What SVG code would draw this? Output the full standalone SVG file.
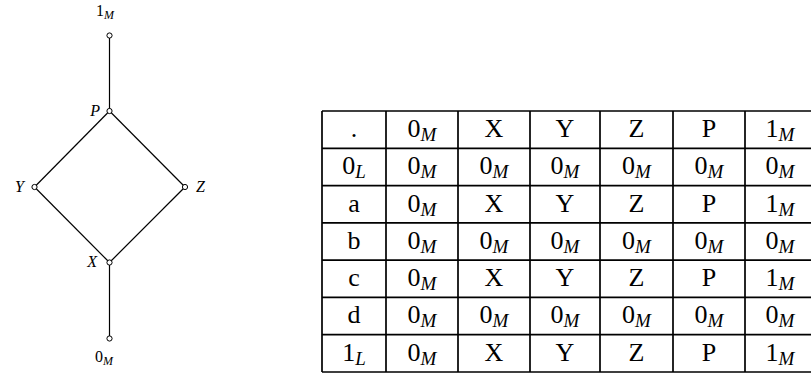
<svg xmlns="http://www.w3.org/2000/svg" width="811" height="376" viewBox="0 0 811 376">
<style>
.edge{stroke:#000;stroke-width:1.2;fill:none}
.node{fill:#fff;stroke:#000;stroke-width:1}
.lab{font-family:"Liberation Serif",serif;font-size:16px;fill:#000}
.it{font-style:italic}
.ls{font-size:12px;font-style:italic}
.grid{stroke:#000;stroke-width:1.7;fill:none}
.t{font-family:"Liberation Serif",serif;font-size:26px;text-anchor:middle;fill:#000}
.s{font-size:19px;font-style:italic}
</style>
<rect width="811" height="376" fill="#fff"/>
<g id="connectors">
<line class="edge" x1="109.5" y1="35.5" x2="109.5" y2="111"/>
<line class="edge" x1="109.5" y1="111" x2="34.5" y2="187"/>
<line class="edge" x1="109.5" y1="111" x2="185" y2="187"/>
<line class="edge" x1="34.5" y1="187" x2="109.5" y2="262.5"/>
<line class="edge" x1="185" y1="187" x2="109.5" y2="262.5"/>
<line class="edge" x1="109.5" y1="262.5" x2="109.5" y2="338.5"/>
</g>
<g id="n1M"><circle class="node" cx="109.5" cy="35.5" r="2.6"/><text class="lab" x="96" y="16">1<tspan class="ls" dy="3">M</tspan></text></g>
<g id="nP"><circle class="node" cx="109.5" cy="111" r="2.6"/><text class="lab it" x="100" y="116" text-anchor="end">P</text></g>
<g id="nY"><circle class="node" cx="34.5" cy="187" r="2.6"/><text class="lab it" x="24" y="192" text-anchor="end">Y</text></g>
<g id="nZ"><circle class="node" cx="185" cy="187" r="2.6"/><text class="lab it" x="196" y="192">Z</text></g>
<g id="nX"><circle class="node" cx="109.5" cy="262.5" r="2.6"/><text class="lab it" x="97" y="267" text-anchor="end">X</text></g>
<g id="n0M"><circle class="node" cx="109.5" cy="338.5" r="2.6"/><text class="lab" x="95" y="362">0<tspan class="ls" dy="3">M</tspan></text></g>
<g id="table">
<path class="grid" d="M322 111H817M322 148.3H817M322 185.6H817M322 222.9H817M322 260.1H817M322 297.4H817M322 334.7H817M322 372H817M322 111V372M386 111V372M458 111V372M530 111V372M600 111V372M673 111V372M745 111V372"/>
<g class="t">
<text x="354" y="137">.</text>
<text x="422" y="137">0<tspan class="s" dy="4">M</tspan></text>
<text x="494" y="137">X</text><text x="565" y="137">Y</text><text x="636.5" y="137">Z</text><text x="709" y="137">P</text>
<text x="780" y="137">1<tspan class="s" dy="4">M</tspan></text>

<text x="354" y="174.3">0<tspan class="s" dy="4">L</tspan></text>
<text x="422" y="174.3">0<tspan class="s" dy="4">M</tspan></text>
<text x="494" y="174.3">0<tspan class="s" dy="4">M</tspan></text>
<text x="565" y="174.3">0<tspan class="s" dy="4">M</tspan></text>
<text x="636.5" y="174.3">0<tspan class="s" dy="4">M</tspan></text>
<text x="709" y="174.3">0<tspan class="s" dy="4">M</tspan></text>
<text x="780" y="174.3">0<tspan class="s" dy="4">M</tspan></text>

<text x="354" y="211.6">a</text>
<text x="422" y="211.6">0<tspan class="s" dy="4">M</tspan></text>
<text x="494" y="211.6">X</text><text x="565" y="211.6">Y</text><text x="636.5" y="211.6">Z</text><text x="709" y="211.6">P</text>
<text x="780" y="211.6">1<tspan class="s" dy="4">M</tspan></text>

<text x="354" y="248.9">b</text>
<text x="422" y="248.9">0<tspan class="s" dy="4">M</tspan></text>
<text x="494" y="248.9">0<tspan class="s" dy="4">M</tspan></text>
<text x="565" y="248.9">0<tspan class="s" dy="4">M</tspan></text>
<text x="636.5" y="248.9">0<tspan class="s" dy="4">M</tspan></text>
<text x="709" y="248.9">0<tspan class="s" dy="4">M</tspan></text>
<text x="780" y="248.9">0<tspan class="s" dy="4">M</tspan></text>

<text x="354" y="286.1">c</text>
<text x="422" y="286.1">0<tspan class="s" dy="4">M</tspan></text>
<text x="494" y="286.1">X</text><text x="565" y="286.1">Y</text><text x="636.5" y="286.1">Z</text><text x="709" y="286.1">P</text>
<text x="780" y="286.1">1<tspan class="s" dy="4">M</tspan></text>

<text x="354" y="323.4">d</text>
<text x="422" y="323.4">0<tspan class="s" dy="4">M</tspan></text>
<text x="494" y="323.4">0<tspan class="s" dy="4">M</tspan></text>
<text x="565" y="323.4">0<tspan class="s" dy="4">M</tspan></text>
<text x="636.5" y="323.4">0<tspan class="s" dy="4">M</tspan></text>
<text x="709" y="323.4">0<tspan class="s" dy="4">M</tspan></text>
<text x="780" y="323.4">0<tspan class="s" dy="4">M</tspan></text>

<text x="354" y="360.7">1<tspan class="s" dy="4">L</tspan></text>
<text x="422" y="360.7">0<tspan class="s" dy="4">M</tspan></text>
<text x="494" y="360.7">X</text><text x="565" y="360.7">Y</text><text x="636.5" y="360.7">Z</text><text x="709" y="360.7">P</text>
<text x="780" y="360.7">1<tspan class="s" dy="4">M</tspan></text>
</g>
</g>
</svg>
